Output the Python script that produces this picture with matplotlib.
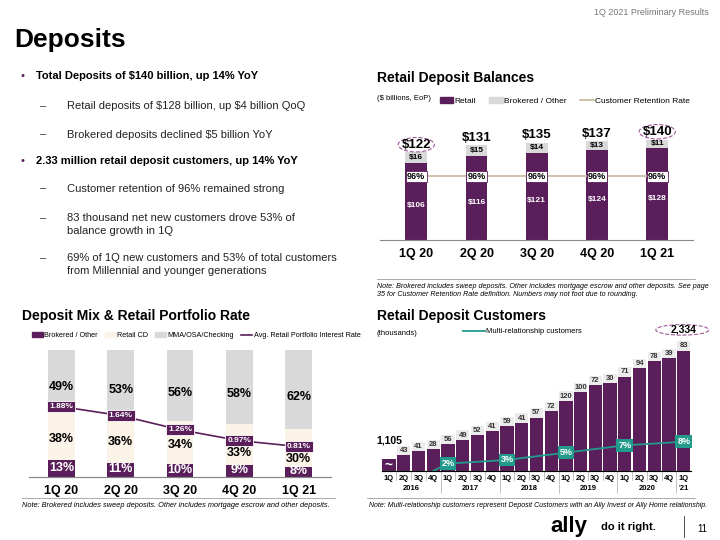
import numpy as np
import matplotlib.pyplot as plt
from matplotlib.patches import Ellipse, Patch
from matplotlib.lines import Line2D

PURPLE = '#5a1f5b'
GRAY = '#d9d9d9'
CREAM = '#fbf2e8'
TEAL = '#239b8c'
TAN = '#c8b89a'

# retail deposit balances
quarters = ['1Q 20', '2Q 20', '3Q 20', '4Q 20', '1Q 21']
retail = [106, 116, 121, 124, 128]
brokered = [16, 15, 14, 13, 11]
totals = [122, 131, 135, 137, 140]
retention = [96, 96, 96, 96, 96]

# deposit mix
mix_brokered = [13, 11, 10, 9, 8]
mix_cd = [38, 36, 34, 33, 30]
mix_mma = [49, 53, 56, 58, 62]
avg_rate = [1.88, 1.64, 1.26, 0.97, 0.81]

# retail deposit customers (thousands)
cust_q = ['1Q', '2Q', '3Q', '4Q'] * 5 + ['1Q']
cust_years = ['2016', '2017', '2018', '2019', '2020', "'21"]
cust_start = 1105
cust_adds = [43, 41, 28, 56, 49, 52, 41, 59, 41, 57, 72, 120, 100, 72, 30,
             71, 94, 78, 39, 83]
multi_x = [3, 4, 8, 12, 16, 20]
multi_pct = [0, 2, 3, 5, 7, 8]
multi_lbl = [None, '2%', '3%', '5%', '7%', '8%']

fig = plt.figure(figsize=(7.2, 5.4), dpi=100)
plt.rcParams['font.family'] = ['Liberation Sans', 'DejaVu Sans']

fig.text(0.985, 0.985, '1Q 2021 Preliminary Results', ha='right', va='top', fontsize=6.5, color='#777777')
fig.text(0.02, 0.925, 'Deposits', fontsize=19, fontweight='bold', va='center')


def bullet(y, s, sub=False):
    if sub:
        fig.text(0.055, y, '–', fontsize=8, va='top', color='#333333')
        fig.text(0.093, y, s, fontsize=8, va='top', color='#222222', linespacing=1.4)
    else:
        fig.text(0.028, y, '•', fontsize=8, va='top', color='#5a1f5b')
        fig.text(0.05, y, s, fontsize=8, va='top', fontweight='bold')


bullet(0.868, 'Total Deposits of \\$140 billion, up 14% YoY')
bullet(0.813, 'Retail deposits of \\$128 billion, up \\$4 billion QoQ', sub=True)
bullet(0.76, 'Brokered deposits declined \\$5 billion YoY', sub=True)
bullet(0.712, '2.33 million retail deposit customers, up 14% YoY')
bullet(0.66, 'Customer retention of 96% remained strong', sub=True)
bullet(0.605, '83 thousand net new customers drove 53% of\nbalance growth in 1Q', sub=True)
bullet(0.532, '69% of 1Q new customers and 53% of total customers\nfrom Millennial and younger generations', sub=True)

for x, y, s in [(0.523, 0.855, 'Retail Deposit Balances'), (0.03, 0.415, 'Deposit Mix & Retail Portfolio Rate'),
                (0.523, 0.415, 'Retail Deposit Customers')]:
    fig.text(x, y, s, fontsize=10, fontweight='bold', va='center')

# ---- top right
ax = fig.add_axes([0.528, 0.556, 0.435, 0.22])
x = np.arange(len(quarters))
ax.bar(x, retail, 0.36, color=PURPLE)
ax.bar(x, brokered, 0.36, bottom=retail, color=GRAY)
ax.plot(x, [88] * 5, color=TAN, lw=1.2)
for i in x:
    ax.text(i, retail[i] * 0.45, f'${retail[i]}', ha='center', va='center', color='white', fontsize=6, fontweight='bold')
    ax.text(i, retail[i] + brokered[i] / 2, f'${brokered[i]}', ha='center', va='center', fontsize=6, fontweight='bold')
    ax.text(i, 88, f'{retention[i]}%', ha='center', va='center', fontsize=6.5, fontweight='bold',
            bbox=dict(boxstyle='square,pad=0.15', fc='white', ec=PURPLE, lw=0.6))
    ax.text(i, totals[i] + 10, f'${totals[i]}', ha='center', va='center', fontsize=9.5, fontweight='bold')
for i in (0, 4):
    ax.add_patch(Ellipse((i, totals[i] + 10), 0.6, 20, fill=False, ec='#a05a9a', ls='--', lw=0.8))
ax.set_ylim(0, 165)
ax.set_xlim(-0.6, 4.6)
ax.set_xticks(x, quarters, fontsize=9, fontweight='bold')
ax.tick_params(length=0, pad=6)
ax.set_yticks([])
for s in ('top', 'right', 'left'):
    ax.spines[s].set_visible(False)
ax.spines['bottom'].set_color('#888888')
fig.legend(handles=[Patch(color=PURPLE, label='Retail'), Patch(color=GRAY, label='Brokered / Other'),
                    Line2D([], [], color=TAN, lw=1.2, label='Customer Retention Rate')],
           loc='center left', bbox_to_anchor=(0.6, 0.813), ncol=3, fontsize=6, frameon=False,
           handlelength=1.6, columnspacing=1.6, handletextpad=0.2)
fig.text(0.523, 0.818, '(\\$ billions, EoP)', fontsize=5.5, va='center')
fig.text(0.523, 0.475, 'Note: Brokered includes sweep deposits. Other includes mortgage escrow and other deposits. See page\n'
         '35 for Customer Retention Rate definition. Numbers may not foot due to rounding.',
         fontsize=5.1, style='italic', va='top')
fig.add_artist(Line2D([0.523, 0.965], [0.484, 0.484], color='#888888', lw=0.5))

# ---- bottom left
ax2 = fig.add_axes([0.04, 0.117, 0.42, 0.235])
x = np.arange(5)
b1 = np.array(mix_brokered)
b2 = b1 + np.array(mix_cd)
rate_top = 3.4
ax2.bar(x, mix_brokered, 0.45, color=PURPLE)
ax2.bar(x, mix_cd, 0.45, bottom=b1, color=CREAM)
ax2.bar(x, mix_mma, 0.45, bottom=b2, color=GRAY)
for i in x:
    cd_y = min(b1[i] + mix_cd[i] * 0.45, avg_rate[i] * 100 / rate_top - 10)
    ax2.text(i, mix_brokered[i] / 2 + 0.5, f'{mix_brokered[i]}%', ha='center', va='center', color='white', fontsize=9, fontweight='bold')
    ax2.text(i, cd_y, f'{mix_cd[i]}%', ha='center', va='center', fontsize=9, fontweight='bold')
    ax2.text(i, b2[i] + mix_mma[i] * 0.4, f'{mix_mma[i]}%', ha='center', va='center', fontsize=9, fontweight='bold')
ax2r = ax2.twinx()
ax2r.plot(x, avg_rate, color=PURPLE, lw=1.2)
for i in x:
    ax2r.text(i, avg_rate[i], f'{avg_rate[i]:.2f}%', ha='center', va='center', fontsize=6, color='white', fontweight='bold',
              bbox=dict(boxstyle='square,pad=0.25', fc=PURPLE, ec='white', lw=0.6))
ax2r.set_ylim(0, rate_top)
ax2.set_ylim(0, 100)
ax2.set_xlim(-0.55, 4.55)
ax2.set_xticks(x, quarters, fontsize=9, fontweight='bold')
ax2.tick_params(length=0, pad=6)
for a in (ax2, ax2r):
    a.set_yticks([])
    for s in ('top', 'right', 'left'):
        a.spines[s].set_visible(False)
    a.spines['bottom'].set_color('#888888')
fig.legend(handles=[Patch(color=PURPLE, label='Brokered / Other'), Patch(color=CREAM, label='Retail CD'),
                    Patch(color=GRAY, label='MMA/OSA/Checking'),
                    Line2D([], [], color=PURPLE, lw=1.2, label='Avg. Retail Portfolio Interest Rate')],
           loc='center left', bbox_to_anchor=(0.035, 0.378), ncol=4, fontsize=5.2, frameon=False,
           handlelength=1.5, columnspacing=1.0, handletextpad=0.2)
fig.add_artist(Line2D([0.03, 0.465], [0.077, 0.077], color='#888888', lw=0.5))
fig.text(0.03, 0.07, 'Note: Brokered includes sweep deposits. Other includes mortgage escrow and other deposits.',
         fontsize=5.3, style='italic', va='top')

# ---- bottom right
base = 968
ax3 = fig.add_axes([0.53, 0.128, 0.43, 0.27])
cum = cust_start + np.cumsum([0] + cust_adds)
x = np.arange(len(cum))
ax3.bar(x, cum - base, 0.9, bottom=base, color=PURPLE)
ax3.bar(x[1:], [105] * len(cust_adds), 0.9, bottom=cum[1:], color='#ebebeb')
for i in range(1, len(cum)):
    ax3.text(i, cum[i] + 52, str(cust_adds[i - 1]), ha='center', va='center', fontsize=5.5, fontweight='bold', color='#333333')
ax3.text(0.05, cust_start + 210, '1,105', ha='center', va='center', fontsize=7.5, fontweight='bold')
ax3.text(0, 1040, '~', ha='center', va='center', fontsize=10, color='white', fontweight='bold')
ax3.text(20, cum[-1] + 235, '2,334', ha='center', va='center', fontsize=7.5, fontweight='bold', clip_on=False)
ax3.add_patch(Ellipse((19.9, cum[-1] + 235), 3.6, 120, fill=False, ec='#a05a9a', ls='--', lw=0.8, clip_on=False))
ax3.set_ylim(base, 2620)
ax3.set_xlim(-0.5, 20.5)
ax3.set_xticks(x, cust_q, fontsize=5.5, fontweight='bold')
ax3.tick_params(length=0, pad=3)
ax3.set_yticks([])
for s in ('top', 'right', 'left'):
    ax3.spines[s].set_visible(False)
ax3.spines['bottom'].set_color('#888888')
for k, yl in enumerate(cust_years):
    ax3.text(k * 4 + 1.5 if k < 5 else 20, -0.118, yl, transform=ax3.get_xaxis_transform(), ha='center', va='center',
             fontsize=5.5, fontweight='bold')
for xv in np.arange(0.5, 20, 1):
    ax3.plot([xv, xv], [0, -0.065] if (xv + 0.5) % 4 else [0, -0.155], transform=ax3.get_xaxis_transform(),
             color='#aaaaaa', lw=0.5, clip_on=False)
ax3r = ax3.twinx()
ax3r.plot(multi_x, multi_pct, color=TEAL, lw=1.3)
for xx, yy, lb in zip(multi_x, multi_pct, multi_lbl):
    if lb:
        ax3r.text(xx, yy, lb, ha='center', va='center', fontsize=6.5, color='white', fontweight='bold',
                  bbox=dict(boxstyle='square,pad=0.2', fc=TEAL, ec='none'))
ax3r.set_ylim(0, 40)
ax3r.set_yticks([])
for s in ('top', 'right', 'left'):
    ax3r.spines[s].set_visible(False)
fig.text(0.523, 0.383, '(thousands)', fontsize=5.5, va='center')
fig.add_artist(Line2D([0.643, 0.673], [0.387, 0.387], color=TEAL, lw=1.3))
fig.text(0.675, 0.387, 'Multi-relationship customers', fontsize=5.5, va='center')
fig.add_artist(Line2D([0.51, 0.965], [0.077, 0.077], color='#888888', lw=0.5))
fig.text(0.512, 0.07, 'Note: Multi-relationship customers represent Deposit Customers with an Ally Invest or Ally Home relationship.',
         fontsize=5.0, style='italic', va='top')

fig.text(0.765, 0.025, 'ally', fontsize=16, fontweight='bold', va='center')
fig.text(0.835, 0.025, 'do it right.', fontsize=8, fontweight='bold', va='center')
fig.add_artist(Line2D([0.95, 0.95], [0.005, 0.045], color='#333333', lw=0.6))
fig.text(0.975, 0.02, '11', fontsize=7, va='center', ha='center')

fig.savefig('out.png', dpi=100)
